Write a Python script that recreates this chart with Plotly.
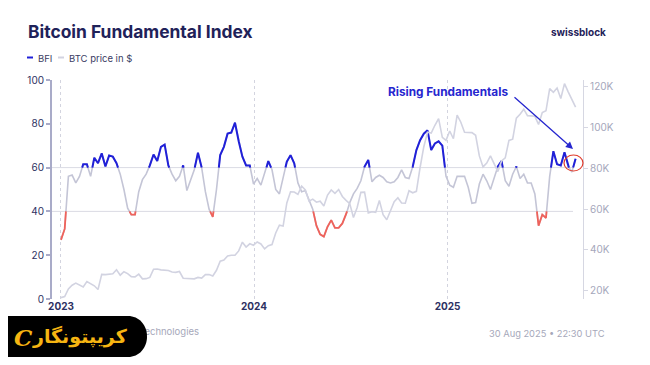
import pandas as pd
import plotly.graph_objects as go

# ---------------- data ----------------
week_start = "2023-01-01"
n_weeks = 140
dates = pd.date_range(week_start, periods=n_weeks, freq="7D")

bfi = [
    27, 32, 56, 56.6, 53, 56, 61.5, 61.5, 56, 64.5,
    62, 66.5, 60.5, 65.5, 65, 62, 57, 50, 41.5, 38.5,
    38.5, 49, 54.5, 57, 61, 66, 63, 69.5, 70.5, 61,
    57, 54, 56, 61, 49.5, 54, 59, 66.8, 60, 49,
    41, 37.5, 50, 65.7, 69.5, 75.5, 76, 80.5, 72, 65,
    61, 61, 52.5, 55, 52, 57, 63, 59, 50, 48,
    55.5, 62.7, 65.7, 62, 53, 49, 49.5, 45.5, 41, 33.5,
    29.5, 28.5, 33, 36, 32.5, 32.5, 34.5, 38.5, 44, 48,
    50.5, 54, 60.5, 63.5, 53.5, 55.5, 56.5, 55.5, 53.5, 53,
    53.5, 55.5, 59, 55.5, 55, 60.4, 68, 72.5, 75.5, 77,
    68, 71, 72, 70, 56, 52, 51, 56, 56, 56,
    51, 43.7, 44, 52.5, 57, 54, 50, 55, 60.5, 63,
    54, 51.5, 57, 60.5, 55, 57, 53, 53, 48, 33.5,
    38.5, 37, 56, 67.5, 61.5, 61, 67, 60.5, 58, 64,
]

btc_k = [
    16.6, 17.1, 20.9, 22.7, 23.7, 22.9, 21.8, 24.5, 23.5, 22.4,
    20.6, 28.0, 27.9, 28.2, 28.3, 30.3, 27.6, 29.3, 28.4, 26.9,
    26.8, 28.1, 25.8, 25.9, 26.5, 30.5, 30.6, 30.2, 30.2, 29.9,
    29.2, 29.0, 29.4, 26.1, 26.0, 25.8, 25.8, 26.5, 26.2, 27.9,
    27.9, 27.2, 30.0, 34.5, 35.0, 37.0, 37.4, 37.4, 39.5, 43.8,
    41.4, 43.0, 42.3,
    43.9, 42.9, 40.5, 42.1, 42.6, 48.3, 52.1, 51.7, 63.0, 68.5,
    68.4, 67.2, 71.3, 69.4, 63.9, 64.9, 63.4, 63.9, 61.5, 66.9,
    69.4, 67.7, 69.6, 66.2, 64.3, 62.7, 55.9, 60.8, 68.2, 68.3,
    58.1, 58.7, 58.4, 64.2, 57.3, 54.8, 59.2, 63.6, 65.6, 63.0,
    62.9, 69.0, 68.0, 68.7, 80.4, 90.6, 97.7, 97.3, 101.1, 104.4,
    95.2, 93.7,
    98.3, 94.5, 106.1, 102.6, 97.7, 97.5, 97.5, 96.2, 86.1, 80.7,
    82.6, 86.1, 82.3, 78.4, 83.6, 85.1, 93.7, 94.3, 104.6, 106.5,
    109.0, 105.8, 105.7, 105.5, 101.5, 107.3, 108.2, 119.1, 117.3, 119.4,
    114.2, 121.5, 117.5, 113.5, 110.0,
]

x_tickvals = ["2023-01-01", "2024-01-01", "2025-01-01"]
x_ticktext = ["2023", "2024", "2025"]
bfi_ticks = [0, 20, 40, 60, 80, 100]
btc_ticks = [20, 40, 60, 80, 100, 120]
btc_ticktext = [f"{v}K" for v in btc_ticks]
HI, LO = 60, 40

# ---------------- styles ----------------
W, H = 650, 365
OFF = 8  # page body margin: screen pixel = figure pixel + OFF
PL, PR, PT, PB = 52, 583, 80, 299   # plot box in screen pixels
FONT = "Inter"
NAVY = "#1f2259"
LABEL = "#2d3162"
BLUE = "#2020d8"
RED = "#f0625a"
GRAY_BFI = "#c4c5d6"
GRAY_BTC = "#d2d3e1"
GOLD = "#f6b512"


def band(t, v, inside, thr):
    tn = [ts.value for ts in t]
    xs, ys = [], []
    if inside(v[0]):
        xs.append(tn[0]); ys.append(v[0])
    for i in range(1, len(v)):
        a, b = v[i - 1], v[i]
        ia, ib = inside(a), inside(b)
        if ia != ib:
            f = (thr - a) / (b - a)
            tc = tn[i - 1] + f * (tn[i] - tn[i - 1])
            if ib:
                xs += [tc, tn[i]]; ys += [thr, b]
            else:
                xs += [tc, None]; ys += [thr, None]
        elif ib:
            xs.append(tn[i]); ys.append(b)
    xs = [pd.Timestamp(int(x)) if x is not None else None for x in xs]
    return xs, ys


hx, hy = band(dates, bfi, lambda z: z >= HI, HI)
lx, ly = band(dates, bfi, lambda z: z <= LO, LO)

fig = go.Figure()
fig.add_trace(go.Scatter(x=dates, y=btc_k, yaxis="y2", mode="lines",
                         line=dict(color=GRAY_BTC, width=1.6), hoverinfo="skip"))
fig.add_trace(go.Scatter(x=dates, y=bfi, mode="lines",
                         line=dict(color=GRAY_BFI, width=1.6), hoverinfo="skip"))
fig.add_trace(go.Scatter(x=hx, y=hy, mode="lines", connectgaps=False,
                         line=dict(color=BLUE, width=2), hoverinfo="skip"))
fig.add_trace(go.Scatter(x=lx, y=ly, mode="lines", connectgaps=False,
                         line=dict(color=RED, width=1.8), hoverinfo="skip"))

fig.update_layout(
    template="none",
    width=W, height=H, showlegend=False, autosize=False,
    margin=dict(l=0, r=0, t=0, b=0, pad=0),
    paper_bgcolor="white", plot_bgcolor="rgba(0,0,0,0)",
    xaxis=dict(domain=[(PL - OFF) / W, (PR - OFF) / W], type="date", automargin=False,
               range=["2022-12-15", "2025-09-14"],
               tickvals=x_tickvals, ticktext=[f"<b>{t}</b>" for t in x_ticktext],
               tickfont=dict(family=FONT, size=10, color=LABEL),
               showgrid=True, gridcolor="#d3d4df", griddash="dot", gridwidth=1,
               showline=False, zeroline=False, ticks=""),
    yaxis=dict(domain=[1 - (PB - OFF) / H, 1 - (PT - OFF) / H], range=[0, 100],
               automargin=False,
               tickvals=bfi_ticks, tickfont=dict(family=FONT, size=10, color=LABEL),
               showline=True, linecolor="#a9abc8", linewidth=2,
               ticks="outside", ticklen=4, tickwidth=1.5, tickcolor="#a9abc8",
               showgrid=False, zeroline=False),
    yaxis2=dict(overlaying="y", side="right", range=[15.93, 123.3], automargin=False,
                tickvals=btc_ticks, ticktext=btc_ticktext,
                tickfont=dict(family=FONT, size=10, color="#a5a7bb"),
                showline=True, linecolor="#d6d7e2", linewidth=1.2,
                ticks="outside", ticklen=4, tickwidth=1, tickcolor="#d6d7e2",
                showgrid=False, zeroline=False),
    # full-figure overlay axes in screen-pixel units (for texts and marks)
    xaxis3=dict(domain=[0, 1], range=[OFF, W + OFF], visible=False, anchor="y3",
                automargin=False),
    yaxis3=dict(domain=[0, 1], range=[H + OFF, OFF], visible=False, anchor="x3",
                automargin=False),
)

# footer credit (partly hidden under the watermark badge)
fig.add_trace(go.Scatter(x=[199], y=[333], xaxis="x3", yaxis="y3", mode="text",
                         text=["Technologies"], textposition="middle left",
                         textfont=dict(family=FONT, size=9.5, color="#a6a8ba"),
                         hoverinfo="skip", cliponaxis=False))

shapes = [
    dict(type="line", xref="paper", yref="y", x0=(PL - OFF) / W, x1=(573 - OFF) / W,
         y0=HI, y1=HI, line=dict(color="#dadbe4", width=1), layer="below"),
    dict(type="line", xref="paper", yref="y", x0=(PL - OFF) / W, x1=(573 - OFF) / W,
         y0=LO, y1=LO, line=dict(color="#dadbe4", width=1), layer="below"),
    dict(type="line", xref="x3", yref="y3", x0=27, x1=33, y0=57.5, y1=57.5,
         line=dict(color=BLUE, width=2), layer="above"),
    dict(type="line", xref="x3", yref="y3", x0=58, x1=64, y0=57.5, y1=57.5,
         line=dict(color=GRAY_BTC, width=2), layer="above"),
    dict(type="circle", xref="x3", yref="y3", x0=564, x1=583, y0=155, y1=171,
         line=dict(color="#e03c2c", width=1.2), layer="above"),
    dict(type="path", xref="x3", yref="y3",
         path="M 6,316 L 128,316 C 139,316 147,325 147,336.5 C 147,348 139,357 128,357 L 6,357 Z",
         fillcolor="black", line=dict(width=0), layer="above"),
]
fig.update_layout(shapes=shapes)


def txt(x, y, text, size, color, xanchor="left", family=FONT):
    return dict(x=x, y=y, xref="x3", yref="y3", text=text, showarrow=False,
                xanchor=xanchor, yanchor="middle",
                font=dict(family=family, size=size, color=color))


annotations = [
    txt(26, 31.5, "<b>Bitcoin Fundamental Index</b>", 17.4, NAVY),
    txt(608, 32, "<b>swissblock</b>", 10, NAVY, xanchor="right"),
    txt(36, 58, "BFI", 9.5, "#3a3d63"),
    txt(67, 58, "BTC price in $", 9.5, "#3a3d63"),
    txt(386, 92, "<b>Rising Fundamentals</b>", 11.8, "#2626cf"),
    txt(607, 333, "30 Aug 2025 • 22:30 UTC", 9.3, "#a6a8ba", xanchor="right"),
    txt(80, 336, "<b>کریپتونگار</b>", 19, GOLD, xanchor="center", family="DejaVu Sans"),
    txt(23, 337, "<b><i>C</i></b>", 23, GOLD, xanchor="center", family="DejaVu Serif"),
    dict(x=573, y=149, xref="x3", yref="y3", ax=513, ay=96, axref="x3", ayref="y3",
         text="", showarrow=True, arrowhead=2, arrowsize=1.1, arrowwidth=1.3,
         arrowcolor="#2626cf", standoff=0),
]
fig.update_layout(annotations=annotations)

fig.write_html("out.html")
